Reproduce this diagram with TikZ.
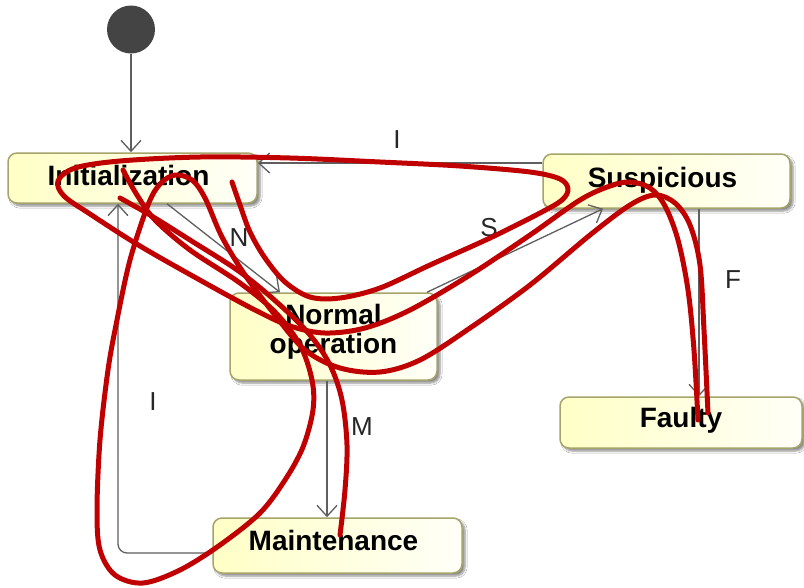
\documentclass[tikz,border=0pt]{standalone}
\usepackage{fontspec}
\setmainfont{Liberation Sans}
\usetikzlibrary{arrows.meta,shadows.blur,calc}
\definecolor{stateBorder}{RGB}{165,164,106}
\definecolor{stateFillL}{RGB}{255,255,198}
\definecolor{stateFillR}{RGB}{255,255,248}
\definecolor{edgeGray}{RGB}{95,95,95}
\definecolor{scribbleRed}{RGB}{192,0,0}
\definecolor{dotGray}{RGB}{68,68,68}
\begin{document}
\begin{tikzpicture}[x=1pt,y=-1pt,
  state/.style={draw=stateBorder, line width=1.5pt, rounded corners=9pt,
    left color=stateFillL, right color=stateFillR, inner sep=0pt,
    blur shadow={shadow xshift=3pt, shadow yshift=-3pt, shadow blur steps=6, shadow opacity=45}},
  stateText/.style={font=\fontsize{28}{29}\selectfont\bfseries, align=center, inner sep=0pt},
  transition/.style={draw=edgeGray, line width=1.3pt, -{Straight Barb[length=11pt,width=20pt]}},
  lbl/.style={font=\fontsize{26}{28}\selectfont, text=black!85, inner sep=0pt},
  scribble/.style={draw=scribbleRed, line width=5pt, line cap=round, line join=round}]
\useasboundingbox (0,0) rectangle (804,587);
\fill[white] (0,0) rectangle (804,587);

% states
\node[circle, fill=dotGray, minimum size=48pt, inner sep=0pt] (start) at (131,29.5) {};
\node[state, minimum width=249pt, minimum height=50pt,
  label={[stateText, xshift=-4pt, yshift=3pt]center:Initialization}] (initn) at (132.5,178) {};
\node[state, minimum width=247pt, minimum height=54pt,
  label={[stateText, xshift=-4pt, yshift=1pt]center:Suspicious}] (susp) at (666.5,181) {};
\node[state, minimum width=207pt, minimum height=87pt,
  label={[stateText, yshift=5pt]center:Normal\\operation}] (normal) at (333.5,336.5) {};
\node[state, minimum width=242pt, minimum height=51pt,
  label={[stateText, yshift=2pt]center:Faulty}] (faulty) at (681,422.5) {};
\node[state, minimum width=249pt, minimum height=55pt,
  label={[stateText, xshift=-4pt, yshift=5pt]center:Maintenance}] (maint) at (337.5,545.5) {};

% attachment points of the transitions
\coordinate (iS) at ([yshift=18pt]susp.west);
\coordinate (nA) at ([xshift=34.5pt]initn.south);
\coordinate (nB) at ([xshift=-53.5pt]normal.north);
\coordinate (sA) at ([xshift=93.5pt]normal.north);
\coordinate (sB) at ([xshift=-63.5pt]susp.south);
\coordinate (fA) at ([xshift=32.5pt]susp.south);
\coordinate (mA) at ([xshift=-6.5pt]normal.south);
\coordinate (rA) at ([yshift=-7.5pt]maint.west);
\coordinate (rB) at ([xshift=-14.5pt]initn.south);

% transitions
\draw[transition] (start) -- (start |- initn.north);
\draw[transition] (iS) -- (iS -| initn.east);
\draw[transition] (nA) -- (nB);
\draw[transition] (sA) -- (sB);
\draw[transition] (fA) -- (fA |- faulty.north);
\draw[transition] (mA) -- (mA |- maint.north);
\draw[transition, rounded corners=9pt] (rA) -| (rB);

% transition labels
\node[lbl] (lblIa) at (397,140) {I};
\node[lbl] (lblN) at (239,238) {N};
\node[lbl] (lblS) at (489,228) {S};
\node[lbl] (lblF) at (733,280) {F};
\node[lbl] (lblM) at (362,427) {M};
\node[lbl] (lblIb) at (153,402) {I};

% red freehand strokes on top
\draw[scribble] plot[smooth, tension=0.55] coordinates {
  (232,182) (240,205) (250,232) (265,258) (285,282) (310,297) (340,298)
  (380,288) (430,265) (490,238) (540,213) (562,200) (568,189) (560,179)
  (530,172) (460,166) (380,162) (290,158) (200,157) (120,161) (75,168)
  (58,181) (64,196) (90,214) (140,246) (207,284) (255,310) (290,326)
  (325,333) (365,328) (410,310) (470,275) (530,235) (580,200) (610,186)
  (630,182) (650,188) (665,206) (678,240) (688,290) (694,350) (698,420)};
\draw[scribble] plot[smooth, tension=0.55] coordinates {
  (123,170) (137,195) (155,220) (190,250) (240,283) (275,312) (300,345)
  (312,380) (313,410) (303,447) (285,480) (260,513) (220,545) (180,570)
  (143,583) (115,575) (100,550) (97,510) (100,440) (108,370) (117,320)
  (130,260) (148,205) (160,184) (175,175) (192,180) (205,198) (222,237)
  (245,275) (275,315) (305,350) (340,368) (380,372) (420,360) (470,328)
  (530,285) (590,235) (630,205) (655,195) (675,203) (690,225) (700,265)
  (704,330) (708,413)};
\draw[scribble] plot[smooth, tension=0.55] coordinates {
  (120,198) (150,215) (190,240) (240,272) (280,305) (310,335) (330,365)
  (342,400) (347,445) (345,490) (340,535)};
\end{tikzpicture}
\end{document}
